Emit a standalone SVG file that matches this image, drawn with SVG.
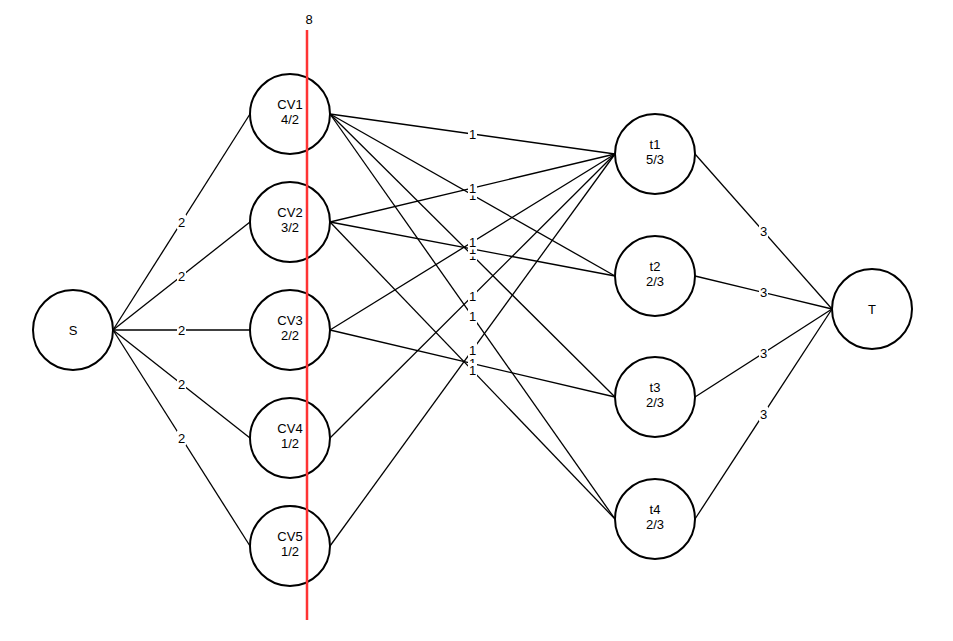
<svg xmlns="http://www.w3.org/2000/svg" width="953" height="641" viewBox="0 0 953 641">
<style>
.node circle{fill:#ffffff;stroke:#000000;stroke-width:2}
text{font-family:"Liberation Sans",Arial,Helvetica,sans-serif;font-size:13px;fill:#000000;text-anchor:middle}
.edge{stroke:#000000;stroke-width:1.3;fill:none}
.lbl rect{fill:#ffffff}
.cut{stroke:#FF3333;stroke-width:2.5}
</style>
<rect x="0" y="0" width="953" height="641" fill="#ffffff"/>
<g id="connectors">
  <line class="edge" x1="113" y1="330" x2="250" y2="114"/>
  <line class="edge" x1="113" y1="330" x2="250" y2="222"/>
  <line class="edge" x1="113" y1="330" x2="250" y2="330"/>
  <line class="edge" x1="113" y1="330" x2="250" y2="438"/>
  <line class="edge" x1="113" y1="330" x2="250" y2="546"/>

  <line class="edge" x1="330" y1="114" x2="615" y2="154"/>
  <line class="edge" x1="330" y1="114" x2="615" y2="276"/>
  <line class="edge" x1="330" y1="114" x2="615" y2="397"/>
  <line class="edge" x1="330" y1="114" x2="615" y2="519"/>
  <line class="edge" x1="330" y1="222" x2="615" y2="154"/>
  <line class="edge" x1="330" y1="222" x2="615" y2="276"/>
  <line class="edge" x1="330" y1="222" x2="615" y2="519"/>
  <line class="edge" x1="330" y1="330" x2="615" y2="154"/>
  <line class="edge" x1="330" y1="330" x2="615" y2="397"/>
  <line class="edge" x1="330" y1="438" x2="615" y2="154"/>
  <line class="edge" x1="330" y1="546" x2="615" y2="154"/>

  <line class="edge" x1="695" y1="154" x2="832" y2="309"/>
  <line class="edge" x1="695" y1="276" x2="832" y2="309"/>
  <line class="edge" x1="695" y1="397" x2="832" y2="309"/>
  <line class="edge" x1="695" y1="519" x2="832" y2="309"/>

  <g class="lbl"><rect x="177" y="214.5" width="9" height="15"/><text x="181.5" y="226.5">2</text></g>
  <g class="lbl"><rect x="177" y="268.5" width="9" height="15"/><text x="181.5" y="280.5">2</text></g>
  <g class="lbl"><rect x="177" y="322.5" width="9" height="15"/><text x="181.5" y="334.5">2</text></g>
  <g class="lbl"><rect x="177" y="376.5" width="9" height="15"/><text x="181.5" y="388.5">2</text></g>
  <g class="lbl"><rect x="177" y="430.5" width="9" height="15"/><text x="181.5" y="442.5">2</text></g>

  <g class="lbl"><rect x="468" y="126.5" width="9" height="15"/><text x="472.5" y="138.5">1</text></g>
  <g class="lbl"><rect x="468" y="187.5" width="9" height="15"/><text x="472.5" y="199.5">1</text></g>
  <g class="lbl"><rect x="468" y="180.5" width="9" height="15"/><text x="472.5" y="192.5">1</text></g>
  <g class="lbl"><rect x="468" y="248" width="9" height="15"/><text x="472.5" y="260">1</text></g>
  <g class="lbl"><rect x="468" y="241.5" width="9" height="15"/><text x="472.5" y="253.5">1</text></g>
  <g class="lbl"><rect x="468" y="234.5" width="9" height="15"/><text x="472.5" y="246.5">1</text></g>
  <g class="lbl"><rect x="468" y="288.5" width="9" height="15"/><text x="472.5" y="300.5">1</text></g>
  <g class="lbl"><rect x="468" y="309" width="9" height="15"/><text x="472.5" y="321">1</text></g>
  <g class="lbl"><rect x="468" y="342.5" width="9" height="15"/><text x="472.5" y="354.5">1</text></g>
  <g class="lbl"><rect x="468" y="356" width="9" height="15"/><text x="472.5" y="368">1</text></g>
  <g class="lbl"><rect x="468" y="363" width="9" height="15"/><text x="472.5" y="375">1</text></g>

  <g class="lbl"><rect x="759" y="224" width="9" height="15"/><text x="763.5" y="236">3</text></g>
  <g class="lbl"><rect x="759" y="285" width="9" height="15"/><text x="763.5" y="297">3</text></g>
  <g class="lbl"><rect x="759" y="345.5" width="9" height="15"/><text x="763.5" y="357.5">3</text></g>
  <g class="lbl"><rect x="759" y="406.5" width="9" height="15"/><text x="763.5" y="418.5">3</text></g>
</g>
<g id="S" class="node"><circle cx="73" cy="330" r="40"/><text x="73" y="335">S</text></g>
<g id="CV1" class="node"><circle cx="290" cy="114" r="40"/><text x="290" y="109">CV1</text><text x="290" y="124">4/2</text></g>
<g id="CV2" class="node"><circle cx="290" cy="222" r="40"/><text x="290" y="217">CV2</text><text x="290" y="232">3/2</text></g>
<g id="CV3" class="node"><circle cx="290" cy="330" r="40"/><text x="290" y="325">CV3</text><text x="290" y="340">2/2</text></g>
<g id="CV4" class="node"><circle cx="290" cy="438" r="40"/><text x="290" y="433">CV4</text><text x="290" y="448">1/2</text></g>
<g id="CV5" class="node"><circle cx="290" cy="546" r="40"/><text x="290" y="541">CV5</text><text x="290" y="556">1/2</text></g>
<g id="t1" class="node"><circle cx="655" cy="154" r="40"/><text x="655" y="149">t1</text><text x="655" y="164">5/3</text></g>
<g id="t2" class="node"><circle cx="655" cy="276" r="40"/><text x="655" y="271">t2</text><text x="655" y="286">2/3</text></g>
<g id="t3" class="node"><circle cx="655" cy="397" r="40"/><text x="655" y="392">t3</text><text x="655" y="407">2/3</text></g>
<g id="t4" class="node"><circle cx="655" cy="519" r="40"/><text x="655" y="514">t4</text><text x="655" y="529">2/3</text></g>
<g id="T" class="node"><circle cx="872" cy="309" r="40"/><text x="872" y="314">T</text></g>
<g id="cut"><line class="cut" x1="307" y1="30" x2="307" y2="620"/><text x="309" y="24">8</text></g>
</svg>
